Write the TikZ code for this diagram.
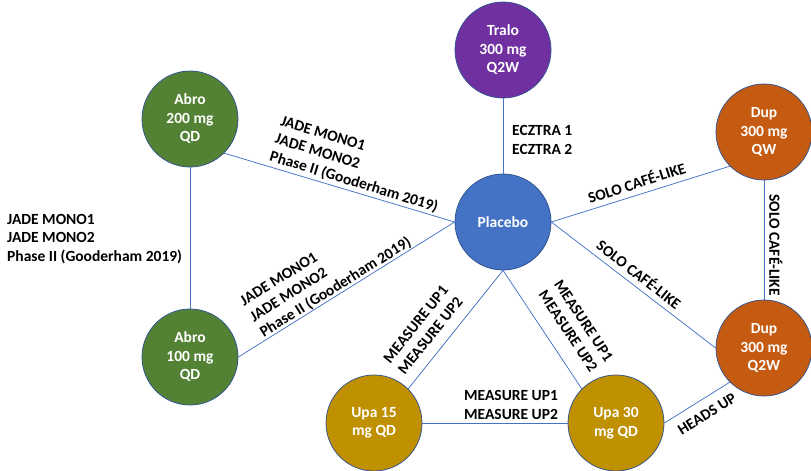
\documentclass[tikz,border=0pt]{standalone}
\usepackage{fontspec}
\setmainfont{Carlito}
\definecolor{ln}{HTML}{4472C4}
\definecolor{bd}{HTML}{2F528F}
\definecolor{tralo}{HTML}{7030A0}
\definecolor{abro}{HTML}{548235}
\definecolor{dup}{HTML}{C55A11}
\definecolor{pbo}{HTML}{4472C4}
\definecolor{upa}{HTML}{BF9000}
\newcommand{\lblfont}{\fontsize{15.5}{18.5}\selectfont\bfseries}
\begin{document}
\begin{tikzpicture}[x=1pt,y=-1pt,
  drug/.style={circle, minimum size=96pt, inner sep=0pt, draw=bd, line width=0.75pt, text=white, align=center, font=\lblfont},
  conn/.style={draw=ln, line width=0.75pt},
  lab/.style={inner sep=0pt, align=left, font=\lblfont, text=black}]
\useasboundingbox (0,0) rectangle (811,471);
\node[drug, fill=tralo] (tra) at (503,50) {Tralo\\300 mg\\Q2W};
\node[drug, fill=abro] (ab2) at (190,119) {Abro\\200 mg\\QD};
\node[drug, fill=dup] (dqw) at (764,132) {Dup\\300 mg\\QW};
\node[drug, fill=pbo] (pla) at (503,222) {Placebo};
\node[drug, fill=abro] (ab1) at (190,357) {Abro\\100 mg\\QD};
\node[drug, fill=dup] (dq2) at (764,348) {Dup\\300 mg\\Q2W};
\node[drug, fill=upa] (u15) at (374,423) {Upa 15\\mg QD};
\node[drug, fill=upa] (u30) at (616,423) {Upa 30\\mg QD};

\draw[conn] (tra.south) -- (pla.north);
\draw[conn] (ab2.-45) -- (pla.west);
\draw[conn] (ab2.south) -- (ab1.north);
\draw[conn] (ab1.east) -- (pla.west);
\draw[conn] (pla.east) -- (dqw.-135);
\draw[conn] (pla.east) -- (dq2.west);
\draw[conn] (dqw.south) -- (dq2.north);
\draw[conn] (pla.south) -- (u15.45);
\draw[conn] (pla.south) -- (u30.135);
\draw[conn] (u15.east) -- (u30.west);
\draw[conn] (dq2.-135) -- (u30.east);

\node[lab, rotate=-17, anchor=south west] (l1) at (268,163) {JADE MONO1\\JADE MONO2\\Phase II (Gooderham 2019)};
\node[lab, rotate=32, anchor=south west] (l2) at (265,340) {JADE MONO1\\JADE MONO2\\Phase II (Gooderham 2019)};
\node[lab, anchor=west] (l3) at (7,239) {JADE MONO1\\JADE MONO2\\Phase II (Gooderham 2019)};
\node[lab, anchor=west] (l4) at (512,140) {ECZTRA 1\\ECZTRA 2};
\node[lab, rotate=17.7, anchor=south west] (l5) at (590,204) {SOLO CAFÉ-LIKE};
\node[lab, rotate=-37.7, anchor=south west] (l6) at (595,248) {SOLO CAFÉ-LIKE};
\node[lab, rotate=-90, anchor=south] (l7) at (769,245) {SOLO CAFÉ-LIKE};
\node[lab, rotate=51.4] (l8) at (423,330) {MEASURE UP1\\MEASURE UP2};
\node[lab, rotate=-56.4] (l9) at (576,326) {MEASURE UP1\\MEASURE UP2};
\node[lab, align=center] (l10) at (511,405) {MEASURE UP1\\MEASURE UP2};
\node[lab, rotate=32] (l11) at (707,414) {HEADS UP};
\end{tikzpicture}
\end{document}
